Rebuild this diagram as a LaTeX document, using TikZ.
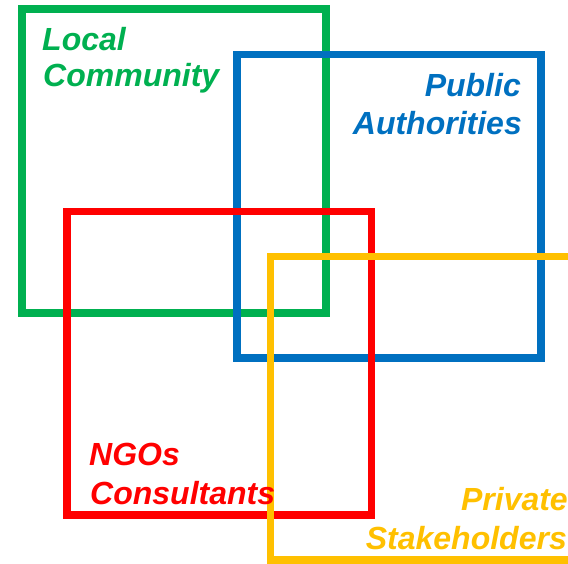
\documentclass[tikz,border=0pt]{standalone}
\usepackage{fontspec}
\setmainfont{Liberation Sans}
\usepackage{tikz}
\usetikzlibrary{positioning}
\definecolor{localgreen}{HTML}{00B050}
\definecolor{publicblue}{HTML}{0070C0}
\definecolor{ngored}{HTML}{FF0000}
\definecolor{privategold}{HTML}{FFC000}
\tikzset{box/.style={draw=#1, line width=7.5pt},
    boxtext/.style={text=#1, inner sep=0pt, font=\bfseries\itshape\fontsize{32}{38}\selectfont}
}

\begin{document}
\begin{tikzpicture}[x=1pt, y=-1pt]
        \useasboundingbox (0, 0) rectangle (568, 563);
        \clip (0, 0) rectangle (568, 563);

        \draw[box=localgreen] (22, 9) rectangle (326, 313);
        \draw[box=publicblue] (237, 54.5) rectangle (541, 358);
        \draw[box=ngored] (67, 211.5) rectangle (371.5, 515);
        \draw[box=privategold] (270.5, 256.5) rectangle (580, 560);

        \node[boxtext=localgreen, anchor=base west] (local) at (42, 50) {Local};
        \node[boxtext=localgreen, anchor=base west] (community) at (43, 86) {Community};

        \node[boxtext=publicblue, anchor=base east] (public) at (521, 96) {Public};
        \node[boxtext=publicblue, anchor=base east] (authorities) at (522, 134) {Authorities};

        \node[boxtext=ngored, anchor=base west] (ngos) at (89, 465) {NGOs};
        \node[boxtext=ngored, anchor=base west] (consultants) at (90, 504) {Consultants};

        \node[boxtext=privategold, anchor=base east] (private) at (568, 510) {Private};
        \node[boxtext=privategold, anchor=base east] (stakeholders) at (567, 549) {Stakeholders};
    \end{tikzpicture}
\end{document}
